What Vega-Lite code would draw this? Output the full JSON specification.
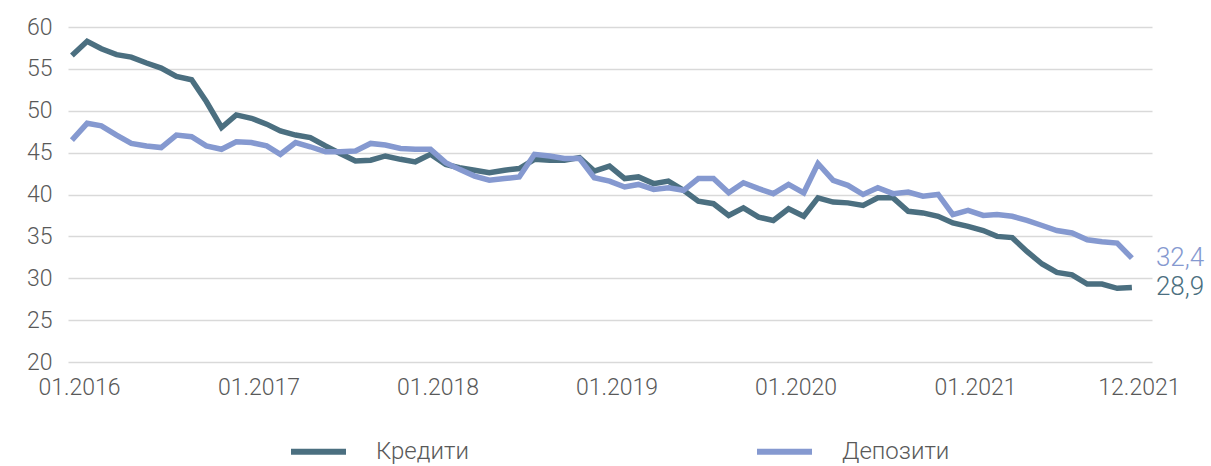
{
  "$schema": "https://vega.github.io/schema/vega-lite/v6.json",
  "width": 1084,
  "height": 335,
  "autosize": {"type": "none"},
  "padding": {"left": 68, "top": 27, "right": 59, "bottom": 104},
  "config": {
    "view": {"stroke": null},
    "font": "Roboto",
    "locale": {"number": {"decimal": ",", "thousands": " ", "grouping": [3], "currency": ["", ""]}}
  },
  "data": {
    "values": [
      {"date": "2016-01-01", "Кредити": 56.6, "Депозити": 46.5},
      {"date": "2016-02-01", "Кредити": 58.3, "Депозити": 48.5},
      {"date": "2016-03-01", "Кредити": 57.4, "Депозити": 48.2},
      {"date": "2016-04-01", "Кредити": 56.7, "Депозити": 47.1},
      {"date": "2016-05-01", "Кредити": 56.4, "Депозити": 46.1},
      {"date": "2016-06-01", "Кредити": 55.7, "Депозити": 45.8},
      {"date": "2016-07-01", "Кредити": 55.1, "Депозити": 45.6},
      {"date": "2016-08-01", "Кредити": 54.1, "Депозити": 47.1},
      {"date": "2016-09-01", "Кредити": 53.7, "Депозити": 46.9},
      {"date": "2016-10-01", "Кредити": 51.1, "Депозити": 45.8},
      {"date": "2016-11-01", "Кредити": 48.0, "Депозити": 45.4},
      {"date": "2016-12-01", "Кредити": 49.5, "Депозити": 46.3},
      {"date": "2017-01-01", "Кредити": 49.1, "Депозити": 46.2},
      {"date": "2017-02-01", "Кредити": 48.4, "Депозити": 45.8},
      {"date": "2017-03-01", "Кредити": 47.6, "Депозити": 44.8},
      {"date": "2017-04-01", "Кредити": 47.1, "Депозити": 46.2},
      {"date": "2017-05-01", "Кредити": 46.8, "Депозити": 45.7},
      {"date": "2017-06-01", "Кредити": 45.8, "Депозити": 45.1},
      {"date": "2017-07-01", "Кредити": 44.9, "Депозити": 45.1},
      {"date": "2017-08-01", "Кредити": 44.0, "Депозити": 45.2},
      {"date": "2017-09-01", "Кредити": 44.1, "Депозити": 46.1},
      {"date": "2017-10-01", "Кредити": 44.6, "Депозити": 45.9},
      {"date": "2017-11-01", "Кредити": 44.2, "Депозити": 45.5},
      {"date": "2017-12-01", "Кредити": 43.9, "Депозити": 45.4},
      {"date": "2018-01-01", "Кредити": 44.8, "Депозити": 45.4},
      {"date": "2018-02-01", "Кредити": 43.6, "Депозити": 43.8},
      {"date": "2018-03-01", "Кредити": 43.2, "Депозити": 43.0},
      {"date": "2018-04-01", "Кредити": 42.9, "Депозити": 42.2},
      {"date": "2018-05-01", "Кредити": 42.6, "Депозити": 41.7},
      {"date": "2018-06-01", "Кредити": 42.9, "Депозити": 41.9},
      {"date": "2018-07-01", "Кредити": 43.1, "Депозити": 42.1},
      {"date": "2018-08-01", "Кредити": 44.2, "Депозити": 44.8},
      {"date": "2018-09-01", "Кредити": 44.1, "Депозити": 44.6},
      {"date": "2018-10-01", "Кредити": 44.1, "Депозити": 44.3},
      {"date": "2018-11-01", "Кредити": 44.4, "Депозити": 44.3},
      {"date": "2018-12-01", "Кредити": 42.8, "Депозити": 42.0},
      {"date": "2019-01-01", "Кредити": 43.4, "Депозити": 41.6},
      {"date": "2019-02-01", "Кредити": 41.9, "Депозити": 40.9},
      {"date": "2019-03-01", "Кредити": 42.1, "Депозити": 41.2},
      {"date": "2019-04-01", "Кредити": 41.3, "Депозити": 40.6},
      {"date": "2019-05-01", "Кредити": 41.6, "Депозити": 40.8},
      {"date": "2019-06-01", "Кредити": 40.5, "Депозити": 40.5},
      {"date": "2019-07-01", "Кредити": 39.2, "Депозити": 41.9},
      {"date": "2019-08-01", "Кредити": 38.9, "Депозити": 41.9},
      {"date": "2019-09-01", "Кредити": 37.5, "Депозити": 40.2},
      {"date": "2019-10-01", "Кредити": 38.4, "Депозити": 41.4},
      {"date": "2019-11-01", "Кредити": 37.3, "Депозити": 40.7},
      {"date": "2019-12-01", "Кредити": 36.9, "Депозити": 40.1},
      {"date": "2020-01-01", "Кредити": 38.3, "Депозити": 41.2},
      {"date": "2020-02-01", "Кредити": 37.4, "Депозити": 40.2},
      {"date": "2020-03-01", "Кредити": 39.6, "Депозити": 43.7},
      {"date": "2020-04-01", "Кредити": 39.1, "Депозити": 41.7},
      {"date": "2020-05-01", "Кредити": 39.0, "Депозити": 41.1},
      {"date": "2020-06-01", "Кредити": 38.7, "Депозити": 40.0},
      {"date": "2020-07-01", "Кредити": 39.6, "Депозити": 40.8},
      {"date": "2020-08-01", "Кредити": 39.6, "Депозити": 40.1},
      {"date": "2020-09-01", "Кредити": 38.0, "Депозити": 40.3},
      {"date": "2020-10-01", "Кредити": 37.8, "Депозити": 39.8},
      {"date": "2020-11-01", "Кредити": 37.4, "Депозити": 40.0},
      {"date": "2020-12-01", "Кредити": 36.6, "Депозити": 37.6},
      {"date": "2021-01-01", "Кредити": 36.2, "Депозити": 38.1},
      {"date": "2021-02-01", "Кредити": 35.7, "Депозити": 37.5},
      {"date": "2021-03-01", "Кредити": 35.0, "Депозити": 37.6},
      {"date": "2021-04-01", "Кредити": 34.85, "Депозити": 37.4},
      {"date": "2021-05-01", "Кредити": 33.2, "Депозити": 36.9},
      {"date": "2021-06-01", "Кредити": 31.7, "Депозити": 36.3},
      {"date": "2021-07-01", "Кредити": 30.7, "Депозити": 35.7},
      {"date": "2021-08-01", "Кредити": 30.4, "Депозити": 35.4},
      {"date": "2021-09-01", "Кредити": 29.3, "Депозити": 34.6},
      {"date": "2021-10-01", "Кредити": 29.3, "Депозити": 34.35},
      {"date": "2021-11-01", "Кредити": 28.8, "Депозити": 34.2},
      {"date": "2021-12-01", "Кредити": 28.9, "Депозити": 32.4}
    ]
  },
  "transform": [{"fold": ["Кредити", "Депозити"], "as": ["series", "value"]}],
  "encoding": {
    "x": {
      "field": "date",
      "type": "temporal",
      "scale": {
        "type": "utc",
        "domain": [
          {"year": 2015, "month": 12, "date": 24, "utc": true},
          {"year": 2022, "month": 1, "date": 11, "utc": true}
        ]
      },
      "axis": {
        "title": null,
        "grid": false,
        "ticks": false,
        "domain": false,
        "format": "%m.%Y",
        "labelFontSize": 23,
        "labelFontWeight": 300,
        "labelColor": "#595959",
        "labelPadding": 14,
        "labelFlush": false,
        "labelOverlap": false,
        "labelOffset": 7,
        "values": [
          {"year": 2016, "month": 1, "date": 1, "utc": true},
          {"year": 2017, "month": 1, "date": 1, "utc": true},
          {"year": 2018, "month": 1, "date": 1, "utc": true},
          {"year": 2019, "month": 1, "date": 1, "utc": true},
          {"year": 2020, "month": 1, "date": 1, "utc": true},
          {"year": 2021, "month": 1, "date": 1, "utc": true},
          {"year": 2021, "month": 12, "date": 1, "utc": true}
        ]
      }
    },
    "y": {
      "field": "value",
      "type": "quantitative",
      "scale": {"domain": [20, 60], "nice": false, "zero": false},
      "axis": {
        "title": null,
        "values": [20, 25, 30, 35, 40, 45, 50, 55, 60],
        "format": "d",
        "ticks": false,
        "domain": false,
        "grid": true,
        "gridColor": "#d9d9d9",
        "gridWidth": 1.5,
        "labelFontSize": 23,
        "labelFontWeight": 300,
        "labelColor": "#595959",
        "labelPadding": 16
      }
    },
    "color": {
      "field": "series",
      "type": "nominal",
      "scale": {"domain": ["Кредити", "Депозити"], "range": ["#4b6f80", "#8599d0"]},
      "legend": {
        "orient": "none",
        "legendX": 220,
        "legendY": 394,
        "direction": "horizontal",
        "title": null,
        "symbolType": "stroke",
        "symbolStrokeWidth": 6,
        "symbolSize": 3025,
        "labelFontSize": 24,
        "labelFontWeight": 300,
        "labelColor": "#595959",
        "labelOffset": 27,
        "columnPadding": 276
      }
    }
  },
  "layer": [
    {"mark": {"type": "line", "strokeWidth": 5.5}},
    {
      "transform": [{"filter": "utcyear(datum.date) == 2021 && utcmonth(datum.date) == 11"}],
      "mark": {"type": "text", "align": "left", "baseline": "middle", "dx": 24, "fontSize": 26, "fontWeight": 300},
      "encoding": {
        "text": {"field": "value", "type": "quantitative", "format": ".1f"}
      }
    }
  ]
}
